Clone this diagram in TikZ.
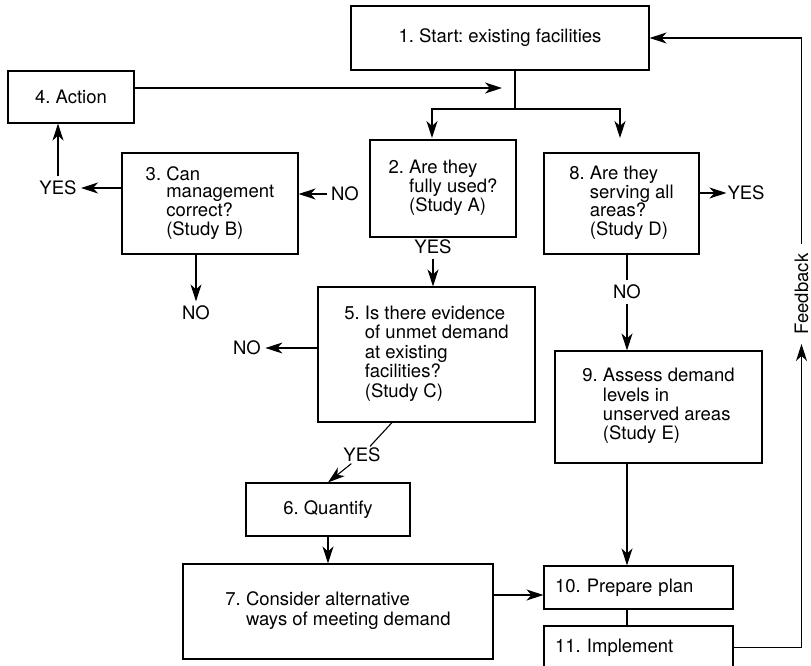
\documentclass[tikz,border=0pt]{standalone}
\usepackage{fontspec}
\setmainfont{TeX Gyre Heros}
\usetikzlibrary{arrows.meta,calc}
\frenchspacing

% numbered text with hanging indent
\newcommand{\hangtext}[2]{\begin{tabular}{@{}l@{\ }l@{}}#1 & #2\end{tabular}}

\begin{document}
\begin{tikzpicture}[x=1pt, y=-1pt, >={Stealth[length=17pt,width=11pt,inset=5pt]}, line width=1.1pt,
  box/.style={draw, rectangle, inner sep=0pt, font=\fontsize{18.5}{19.3}\selectfont},
  tight/.style={font=\fontsize{18.5}{17.3}\selectfont},
  lbl/.style={inner sep=4pt, font=\fontsize{18.5}{19.3}\selectfont}]
\useasboundingbox (0,0) rectangle (811,666);

% boxes
\node[box, minimum width=298pt, minimum height=64pt] (b1) at (500,38) {1. Start: existing facilities};
\node[box, minimum width=126pt, minimum height=52pt] (b4) at (71,97) {4. Action};
\node[box, tight, minimum width=146pt, minimum height=97pt] (b2) at (443,188.5) {\hangtext{2.}{Are they\\ & fully used?\\ & (Study A)}};
\node[box, tight, minimum width=176pt, minimum height=101pt] (b3) at (210,203.5) {\hangtext{3.}{Can\\ & management\\ & correct?\\ & (Study B)}};
\node[box, tight, minimum width=155pt, minimum height=101pt] (b8) at (621.5,203.5) {\hangtext{8.}{Are they\\ & serving all\\ & areas?\\ & (Study D)}};
\node[box, minimum width=217pt, minimum height=135pt] (b5) at (426.5,354.5) {\hangtext{5.}{Is there evidence\\ & of unmet demand\\ & at existing\\ & facilities?\\ & (Study C)}};
\node[box, minimum width=207pt, minimum height=112pt] (b9) at (658.5,407) {\hangtext{9.}{Assess demand\\ & levels in\\ & unserved areas\\ & (Study E)}};
\node[box, minimum width=164pt, minimum height=53pt] (b6) at (328,509.5) {6. Quantify};
\node[box, minimum width=310pt, minimum height=95pt] (b7) at (338,611.5) {\hangtext{7.}{Consider alternative\\ & ways of meeting demand}};
\node[box, minimum width=189pt, minimum height=43pt, text width=167pt, align=left] (b10) at (638.5,587.5) {10. Prepare plan};
\node[box, minimum width=189pt, minimum height=43pt, text width=167pt, align=left] (b11) at (638.5,647.5) {11. Implement};

% labels
\node[lbl] (yes3) at (58,188) {YES};
\node[lbl] (no2) at (345,194) {NO};
\node[lbl] (no3) at (196,313) {NO};
\node[lbl] (yes2) at (433,247) {YES};
\node[lbl] (no5) at (247,348) {NO};
\node[lbl, inner sep=1pt] (yes5) at (362,455) {YES};
\node[lbl, inner sep=0.5pt] (yes8) at (746,193) {YES};
\node[lbl] (no8) at (627,292) {NO};
\node[lbl, rotate=90, inner xsep=9pt, inner ysep=2pt] (fb) at (801.5,294) {Feedback};

\coordinate (sp) at (515,109);
\coordinate (t2) at (432,138);
\coordinate (t8) at (620,138);
\coordinate (j4) at (502,88);

% connectors
\draw (b1.south -| sp) -- (sp);
\draw[->] (sp) -| (t2);
\draw[->] (sp) -| (t8);
\draw[->] (b4.east |- j4) -- (j4);
\draw[->] (b3.west |- yes3) -- (yes3.east);
\draw[->] (yes3.north) -- (yes3.north |- b4.south);
\draw[->] (no2.west) -- (b3.east |- no2);
\draw[->] (b3.south -| no3) -- (no3.north);
\draw[->] (yes2.south) -- (b5.north -| yes2);
\draw[->] (b5.west |- no5) -- (no5.east);
\draw ($(b5.south)+(-34.5,0)$) -- (yes5);
\draw[->] (yes5) -- (b6.north);
\draw[->] (b6.south) -- (b6.south |- b7.north);
\draw[->] (b7.east |- {$(b10.west)+(0,7.5)$}) -- ($(b10.west)+(0,7.5)$);
\draw[->] (b8.east |- yes8) -- (yes8.west);
\draw (b8.south -| no8) -- (no8.north);
\draw[->] (no8.south) -- (b9.north -| no8);
\draw[->] (b9.south -| no8) -- (b10.north -| no8);
\draw (b10.south -| no8) -- (b11.north -| no8);
\draw[->] (b11.east) -| (fb.west);
\draw[->] (fb.east) |- (b1.east);
\end{tikzpicture}
\end{document}
